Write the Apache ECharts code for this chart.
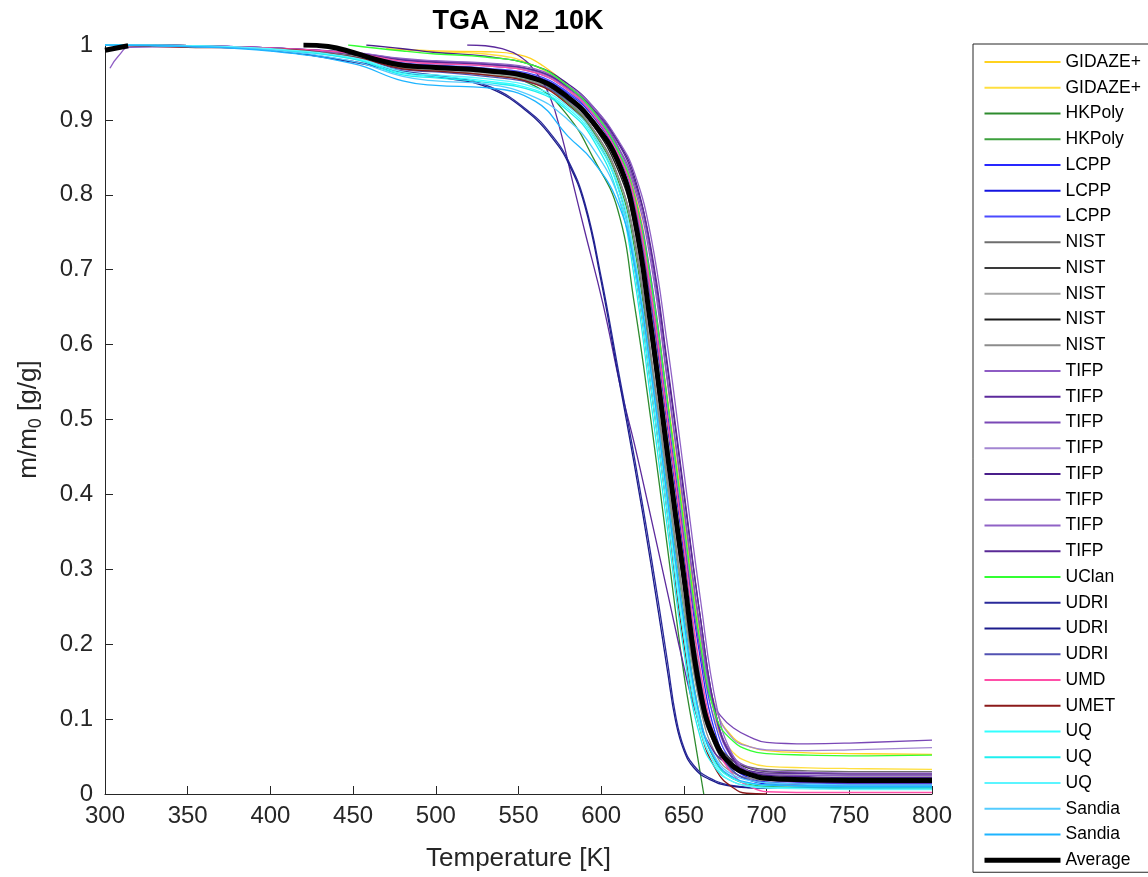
<!DOCTYPE html>
<html><head><meta charset="utf-8">
<script src="https://cdn.jsdelivr.net/npm/echarts/dist/echarts.min.js"></script>
<style>html,body{margin:0;padding:0;background:#fff}#c{width:1148px;height:877px}</style>
</head><body><div id="c"></div>
<script>
// ---- data (Temperature [K], m/m0) ----
const GIDAZE1 = [[470,0.995],[500,0.992],[530,0.991],[550,0.987],[565,0.972],[580,0.945],[595,0.91],[610,0.86],[620,0.805],[630,0.69],[640,0.53],[650,0.37],[660,0.21],[670,0.11],[680,0.075],[690,0.063],[700,0.058],[725,0.055],[750,0.054],[800,0.053]];
const GIDAZE2 = [[483,0.993],[500,0.991],[530,0.988],[560,0.972],[580,0.94],[595,0.905],[610,0.855],[620,0.795],[630,0.67],[640,0.51],[650,0.35],[660,0.19],[670,0.09],[680,0.055],[690,0.042],[700,0.037],[725,0.035],[750,0.034],[800,0.033]];
const HKPOLY1 = [[300,1.0],[350,0.999],[400,0.995],[450,0.985],[480,0.972],[500,0.968],[530,0.963],[560,0.945],[580,0.905],[595,0.85],[610,0.78],[620,0.655],[630,0.5],[640,0.33],[650,0.16],[656,0.08],[662,0.0]];
const HKPOLY2 = [[300,1.0],[350,0.999],[400,0.995],[450,0.984],[480,0.968],[500,0.965],[530,0.96],[560,0.95],[580,0.922],[595,0.885],[610,0.82],[620,0.73],[630,0.575],[640,0.405],[650,0.24],[660,0.1],[670,0.04],[680,0.02],[690,0.013],[700,0.01],[725,0.009],[750,0.008],[800,0.008]];
const LCPP1 = [[300,1.0],[350,0.999],[400,0.996],[450,0.988],[480,0.975],[500,0.972],[530,0.968],[560,0.958],[580,0.935],[595,0.905],[610,0.853],[620,0.795],[630,0.675],[640,0.51],[650,0.34],[660,0.18],[670,0.074],[680,0.036],[690,0.021],[700,0.016],[725,0.013],[750,0.012],[800,0.012]];
const LCPP2 = [[300,1.0],[350,0.999],[400,0.995],[450,0.987],[480,0.973],[500,0.97],[530,0.966],[560,0.956],[580,0.932],[595,0.9],[610,0.848],[620,0.785],[630,0.655],[640,0.49],[650,0.32],[660,0.16],[670,0.065],[680,0.03],[690,0.018],[700,0.013],[725,0.011],[750,0.01],[800,0.01]];
const LCPP3 = [[300,1.0],[350,0.999],[400,0.996],[450,0.988],[480,0.976],[500,0.973],[530,0.969],[560,0.96],[580,0.937],[595,0.908],[610,0.858],[620,0.8],[630,0.69],[640,0.525],[650,0.355],[660,0.195],[670,0.085],[680,0.04],[690,0.025],[700,0.019],[725,0.015],[750,0.014],[800,0.014]];
const NIST1 = [[300,1.0],[350,0.999],[400,0.995],[450,0.986],[480,0.971],[500,0.968],[530,0.963],[560,0.952],[580,0.924],[595,0.888],[610,0.826],[620,0.74],[630,0.585],[640,0.42],[650,0.255],[660,0.12],[670,0.062],[680,0.043],[690,0.036],[700,0.033],[725,0.031],[750,0.03],[800,0.03]];
const NIST2 = [[300,1.0],[350,0.999],[400,0.995],[450,0.987],[480,0.972],[500,0.969],[530,0.964],[560,0.954],[580,0.93],[595,0.897],[610,0.842],[620,0.774],[630,0.632],[640,0.465],[650,0.3],[660,0.15],[670,0.07],[680,0.044],[690,0.034],[700,0.03],[725,0.028],[750,0.027],[800,0.027]];
const NIST3 = [[300,1.0],[350,0.999],[400,0.995],[450,0.986],[480,0.97],[500,0.967],[530,0.962],[560,0.952],[580,0.928],[595,0.897],[610,0.843],[620,0.78],[630,0.645],[640,0.48],[650,0.31],[660,0.16],[670,0.07],[680,0.04],[690,0.03],[700,0.027],[725,0.025],[750,0.024],[800,0.024]];
const NIST4 = [[300,1.0],[350,0.999],[400,0.995],[450,0.987],[480,0.972],[500,0.969],[530,0.964],[560,0.954],[580,0.928],[595,0.893],[610,0.834],[620,0.76],[630,0.61],[640,0.44],[650,0.275],[660,0.13],[670,0.058],[680,0.033],[690,0.025],[700,0.022],[725,0.021],[750,0.02],[800,0.02]];
const NIST5 = [[300,1.0],[350,0.999],[400,0.995],[450,0.985],[480,0.969],[500,0.966],[530,0.96],[560,0.95],[580,0.925],[595,0.888],[610,0.825],[620,0.745],[630,0.59],[640,0.42],[650,0.255],[660,0.115],[670,0.05],[680,0.028],[690,0.021],[700,0.018],[725,0.017],[750,0.016],[800,0.016]];
const TIFP1 = [[303,0.969],[308,0.985],[315,0.997],[350,0.998],[400,0.995],[450,0.988],[480,0.978],[500,0.975],[530,0.972],[560,0.963],[580,0.94],[595,0.91],[610,0.862],[620,0.81],[630,0.71],[640,0.55],[650,0.38],[660,0.215],[670,0.095],[680,0.045],[690,0.03],[700,0.026],[725,0.025],[750,0.025],[800,0.025]];
const TIFP2 = [[519,1.0],[530,0.999],[540,0.995],[550,0.986],[560,0.965],[569,0.931],[576,0.88],[583,0.815],[590,0.752],[601,0.655],[612,0.54],[620,0.468],[630,0.37],[640,0.27],[650,0.17],[657,0.11],[665,0.068],[675,0.042],[690,0.031],[700,0.028],[750,0.027],[800,0.027]];
const TIFP3 = [[300,1.0],[350,0.999],[400,0.996],[450,0.989],[480,0.98],[500,0.977],[530,0.974],[560,0.965],[580,0.942],[595,0.913],[610,0.865],[620,0.79],[630,0.66],[640,0.5],[650,0.34],[660,0.19],[666,0.128],[672,0.105],[680,0.088],[690,0.076],[700,0.069],[725,0.067],[750,0.068],[800,0.072]];
const TIFP4 = [[300,1.0],[350,0.999],[400,0.996],[450,0.989],[480,0.979],[500,0.976],[530,0.973],[560,0.964],[580,0.94],[595,0.91],[610,0.862],[620,0.8],[630,0.68],[640,0.52],[650,0.355],[660,0.2],[670,0.11],[680,0.073],[690,0.063],[700,0.059],[725,0.058],[750,0.059],[800,0.062]];
const TIFP5 = [[458,1.0],[480,0.995],[500,0.99],[530,0.985],[560,0.972],[580,0.948],[595,0.918],[610,0.872],[620,0.825],[630,0.725],[640,0.57],[650,0.4],[660,0.235],[670,0.1],[680,0.048],[690,0.03],[700,0.025],[725,0.023],[750,0.022],[800,0.022]];
const TIFP6 = [[300,1.0],[350,0.999],[400,0.996],[450,0.99],[480,0.981],[500,0.978],[530,0.975],[560,0.966],[580,0.943],[595,0.913],[610,0.865],[620,0.815],[630,0.72],[640,0.555],[650,0.385],[660,0.22],[670,0.1],[680,0.05],[690,0.035],[700,0.031],[725,0.029],[750,0.028],[800,0.028]];
const TIFP7 = [[300,1.0],[350,0.999],[400,0.996],[450,0.99],[480,0.982],[500,0.979],[530,0.976],[560,0.968],[580,0.946],[595,0.918],[610,0.874],[620,0.83],[630,0.745],[640,0.6],[650,0.43],[660,0.26],[670,0.115],[680,0.05],[690,0.029],[700,0.022],[725,0.019],[750,0.018],[800,0.018]];
const TIFP8 = [[300,1.0],[350,0.999],[400,0.996],[450,0.989],[480,0.98],[500,0.977],[530,0.974],[560,0.966],[580,0.944],[595,0.915],[610,0.87],[620,0.82],[630,0.73],[640,0.575],[650,0.405],[660,0.235],[670,0.1],[680,0.045],[690,0.026],[700,0.019],[725,0.016],[750,0.015],[800,0.015]];
const UCLAN = [[447,1.0],[480,0.992],[500,0.988],[530,0.984],[560,0.972],[580,0.945],[595,0.912],[610,0.86],[620,0.8],[630,0.685],[640,0.525],[650,0.36],[660,0.2],[670,0.1],[680,0.07],[690,0.058],[700,0.054],[725,0.052],[750,0.051],[800,0.052]];
const UDRI1 = [[300,1.0],[350,0.998],[400,0.993],[450,0.978],[480,0.965],[508,0.957],[533,0.944],[557,0.91],[570,0.88],[580,0.846],[590,0.79],[600,0.69],[610,0.57],[620,0.45],[630,0.32],[640,0.178],[645,0.105],[650,0.062],[656,0.038],[665,0.022],[680,0.011],[700,0.008],[750,0.009],[800,0.01]];
const UDRI2 = [[300,1.0],[350,0.998],[400,0.993],[450,0.977],[480,0.963],[508,0.955],[533,0.942],[557,0.908],[570,0.877],[580,0.843],[590,0.786],[600,0.684],[610,0.562],[620,0.44],[630,0.308],[640,0.165],[645,0.097],[650,0.058],[656,0.035],[665,0.02],[680,0.01],[700,0.008],[750,0.008],[800,0.009]];
const UDRI3 = [[300,1.0],[350,0.999],[400,0.995],[450,0.984],[480,0.967],[500,0.964],[530,0.958],[560,0.948],[580,0.926],[595,0.895],[610,0.842],[620,0.775],[630,0.64],[640,0.47],[650,0.3],[660,0.15],[670,0.062],[680,0.03],[690,0.019],[700,0.015],[725,0.013],[750,0.012],[800,0.012]];
const UMD = [[300,1.0],[350,0.999],[400,0.996],[450,0.989],[480,0.978],[500,0.975],[530,0.972],[560,0.963],[580,0.94],[595,0.907],[610,0.855],[620,0.795],[630,0.67],[640,0.5],[650,0.33],[660,0.165],[670,0.065],[680,0.025],[690,0.01],[700,0.003],[725,0.002],[750,0.002],[800,0.002]];
const UMET = [[300,1.0],[350,0.997],[400,0.995],[450,0.984],[480,0.968],[500,0.965],[530,0.96],[560,0.948],[580,0.92],[595,0.882],[610,0.812],[620,0.705],[630,0.545],[640,0.375],[650,0.2],[660,0.085],[670,0.03],[680,0.008],[688,0.001],[700,0.0]];
const UQ1 = [[300,1.0],[350,0.999],[400,0.994],[450,0.982],[480,0.962],[500,0.958],[530,0.952],[560,0.94],[580,0.915],[595,0.878],[610,0.81],[620,0.705],[630,0.545],[640,0.375],[650,0.21],[660,0.085],[670,0.038],[680,0.02],[690,0.014],[700,0.012],[725,0.011],[750,0.01],[800,0.01]];
const UQ2 = [[300,1.0],[350,0.999],[400,0.994],[450,0.981],[480,0.96],[500,0.956],[530,0.95],[560,0.938],[580,0.912],[595,0.874],[610,0.8],[620,0.69],[630,0.525],[640,0.355],[650,0.19],[660,0.075],[670,0.032],[680,0.016],[690,0.011],[700,0.009],[725,0.008],[750,0.008],[800,0.008]];
const UQ3 = [[300,1.0],[350,0.999],[400,0.995],[450,0.983],[480,0.964],[500,0.96],[530,0.955],[560,0.943],[580,0.918],[595,0.882],[610,0.815],[620,0.72],[630,0.56],[640,0.39],[650,0.22],[660,0.09],[670,0.035],[680,0.016],[690,0.01],[700,0.008],[725,0.007],[750,0.006],[800,0.006]];
const SANDIA1 = [[300,1.0],[350,0.998],[400,0.993],[450,0.978],[480,0.958],[500,0.952],[530,0.948],[560,0.93],[580,0.9],[595,0.862],[610,0.8],[620,0.715],[630,0.57],[640,0.4],[650,0.235],[660,0.1],[670,0.045],[680,0.025],[690,0.018],[700,0.015],[725,0.013],[750,0.012],[800,0.012]];
const SANDIA2 = [[300,1.0],[350,0.998],[400,0.992],[450,0.975],[480,0.952],[500,0.946],[530,0.943],[560,0.925],[580,0.878],[595,0.845],[610,0.79],[620,0.708],[630,0.565],[640,0.395],[650,0.23],[660,0.098],[670,0.042],[680,0.022],[690,0.015],[700,0.012],[725,0.011],[750,0.01],[800,0.01]];
const AVERAGE = [[300,0.993],[314,0.999],[360,'-'],[420,1.0],[435,0.998],[450,0.99],[465,0.98],[480,0.973],[500,0.97],[530,0.966],[560,0.955],[580,0.93],[595,0.897],[610,0.845],[620,0.77],[630,0.625],[640,0.455],[650,0.29],[660,0.135],[670,0.065],[680,0.037],[690,0.026],[700,0.021],[725,0.019],[750,0.018],[800,0.018]];

const seriesNames = ['GIDAZE+','GIDAZE+','HKPoly','HKPoly','LCPP','LCPP','LCPP','NIST','NIST','NIST','NIST','NIST','TIFP','TIFP','TIFP','TIFP','TIFP','TIFP','TIFP','TIFP','UClan','UDRI','UDRI','UDRI','UMD','UMET','UQ','UQ','UQ','Sandia','Sandia','Average'];
const seriesData = [GIDAZE1,GIDAZE2,HKPOLY1,HKPOLY2,LCPP1,LCPP2,LCPP3,NIST1,NIST2,NIST3,NIST4,NIST5,TIFP1,TIFP2,TIFP3,TIFP4,TIFP5,TIFP6,TIFP7,TIFP8,UCLAN,UDRI1,UDRI2,UDRI3,UMD,UMET,UQ1,UQ2,UQ3,SANDIA1,SANDIA2,AVERAGE];
const seriesColors = ['#FFD21F','#FFDF40','#2E8B2E','#3DA03D','#2828FF','#1414E0','#4B4BFF','#6E6E6E','#3A3A3A','#A6A6A6','#1A1A1A','#8C8C8C','#8E5CC4','#5C2A9C','#7A48B6','#A386D2','#4A1E8A','#8656BB','#9062C6','#5A2A96','#33FF33','#2A2A9A','#1C1C8C','#5252B2','#FF4FA8','#8B1A1A','#33FFFF','#1FEFEF','#5CF5FF','#55CCFF','#1EB4FF','#000000'];

const FONT = '"Liberation Sans", Arial, Helvetica, sans-serif';
const chart = echarts.init(document.getElementById('c'), null, {renderer:'canvas'});
const lastIdx = seriesData.length - 1;
const series = seriesData.map((d, i) => ({
  name: seriesNames[i] + '#' + i,
  type: 'line',
  data: d,
  showSymbol: false,
  symbol: 'none',
  smooth: 0.45,
  connectNulls: false,
  lineStyle: { width: i === lastIdx ? 5 : 1.3, color: seriesColors[i] },
  itemStyle: { color: seriesColors[i] },
  emphasis: { disabled: true },
  z: i === lastIdx ? 5 : 2
}));

chart.setOption({
  animation: false,
  backgroundColor: '#fff',
  grid: { left: 105, right: 216, top: 45, bottom: 83, containLabel: false },
  xAxis: {
    type: 'value', min: 300, max: 800, interval: 50,
    name: 'Temperature [K]', nameLocation: 'middle', nameGap: 52,
    nameTextStyle: { fontFamily: FONT, fontSize: 26, color: '#262626' },
    axisLine: { show: true, onZero: false, lineStyle: { color: '#262626', width: 1 } },
    axisTick: { show: true, inside: true, length: 8, lineStyle: { color: '#262626' } },
    axisLabel: { fontFamily: FONT, fontSize: 24, color: '#262626', margin: 10 },
    splitLine: { show: false }
  },
  yAxis: {
    type: 'value', min: 0, max: 1, interval: 0.1,
    name: '{a|m/m}{s|0}{a| [g/g]}', nameLocation: 'middle', nameGap: 60, nameRotate: 90,
    nameTextStyle: { fontFamily: FONT, color: '#262626',
      rich: { a: { fontFamily: FONT, fontSize: 26, color: '#262626' },
              s: { fontFamily: FONT, fontSize: 18, color: '#262626', padding: [14, 0, 0, 0] } } },
    axisLine: { show: true, onZero: false, lineStyle: { color: '#262626', width: 1 } },
    axisTick: { show: true, inside: true, length: 8, lineStyle: { color: '#262626' } },
    axisLabel: { fontFamily: FONT, fontSize: 24, color: '#262626', margin: 12,
      formatter: v => (v === 0 ? '0' : v === 1 ? '1' : v.toFixed(1)) },
    splitLine: { show: false }
  },
  legend: {
    orient: 'vertical', left: 973, top: 44,
    padding: [9, 80, 3, 9],
    borderColor: '#262626', borderWidth: 1, backgroundColor: '#fff',
    itemWidth: 76, itemHeight: 18, itemGap: 7.75,
    itemStyle: { opacity: 0 },
    lineStyle: { width: 1.8 },
    selectedMode: false,
    textStyle: { fontFamily: FONT, fontSize: 17.5, color: '#000', lineHeight: 18 },
    formatter: n => n.split('#')[0],
    data: series.map((s, i) => i === lastIdx ? { name: s.name, lineStyle: { width: 5 } } : { name: s.name })
  },
  graphic: [{
    type: 'text', x: 518, y: 22,
    style: { text: 'TGA_N2_10K', fontFamily: FONT, fontSize: 27, fontWeight: 'bold', fill: '#000',
             textAlign: 'center', textVerticalAlign: 'middle' }
  }],
  series: series
});
</script></body></html>
